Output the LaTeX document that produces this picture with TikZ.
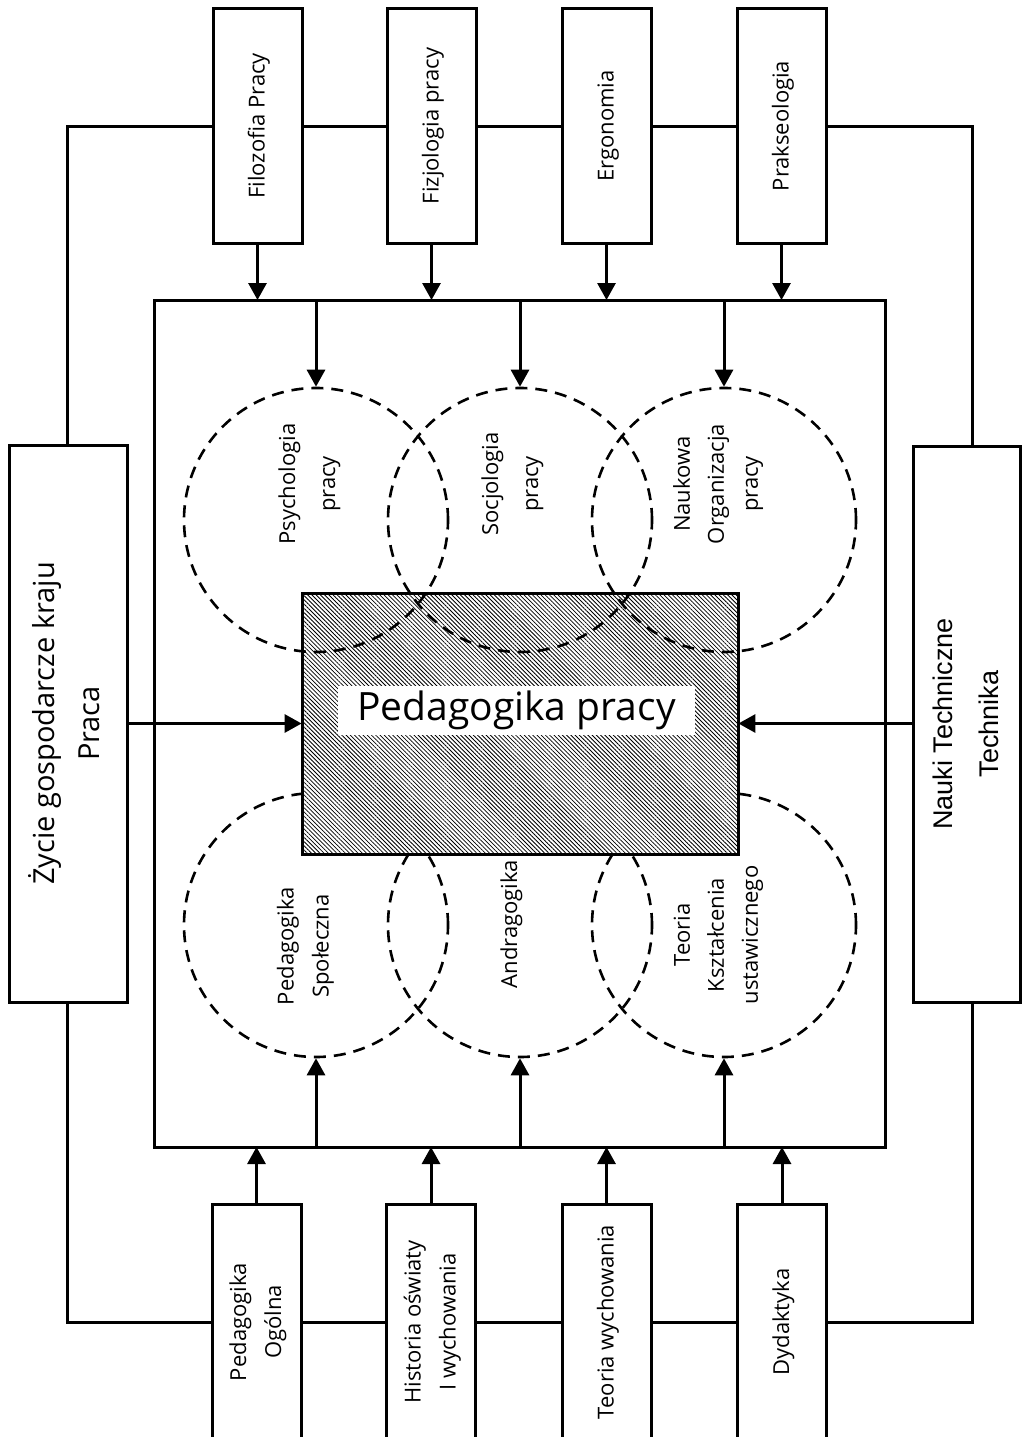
\documentclass[tikz,border=0pt]{standalone}
\usepackage{fontspec}
\usepackage{graphicx}
\setmainfont{Open Sans}
\newfontfamily\arialf{Liberation Sans}
\usetikzlibrary{arrows.meta,patterns.meta}
\newcommand\vtxt[3]{\rotatebox{90}{\fontsize{#1}{#2}\selectfont\begin{tabular}{@{}c@{}}#3\end{tabular}}}
\tikzset{
  line/.style={line width=3pt},
  arr/.style={line width=3pt,-{Triangle[length=17pt,width=18pt]}},
  box/.style={draw,line width=3pt,fill=white,inner sep=0pt},
  topbox/.style={box,minimum width=89pt,minimum height=234pt},
  botbox/.style={box,minimum width=89pt,minimum height=236pt},
  ring/.style={draw,circle,dash pattern=on 12pt off 8pt,line width=2.6pt,minimum size=264pt,inner sep=0pt},
  lbl/.style={inner sep=0pt}
}
\begin{document}
\begin{tikzpicture}[x=1pt,y=-1pt]
\useasboundingbox (0,0) rectangle (1022,1437);
\clip (0,0) rectangle (1022,1437);
% inner frame
\draw[line] (154,300) rectangle (885,1147);
\coordinate (fTL) at (154,300);
\coordinate (fBL) at (154,1147);
% bottom circles (behind)
\node[ring] (c4) at (316,925) {};
\node[ring] (c5) at (520,925) {};
\node[ring] (c6) at (724,925) {};
% hatched centre
\node[draw,line width=3pt,minimum width=436pt,minimum height=261pt,inner sep=0pt,
  preaction={fill=white},
  pattern={Lines[angle=-45,distance=3pt,line width=0.8pt]}] (pp) at (520,723.5) {};
\node[fill=white,minimum width=357pt,minimum height=49pt,inner sep=0pt,font=\fontsize{39}{46}\selectfont] (ppl) at (516.5,710.5) {Pedagogika pracy};
% top circles (in front)
\node[ring] (c1) at (316,520) {};
\node[ring] (c2) at (520,520) {};
\node[ring] (c3) at (724,520) {};
% circle texts
\node[lbl] at (307,484) {\vtxt{22}{40}{Psychologia\\pracy}};
\node[lbl] at (510,484) {\vtxt{22}{40}{Socjologia\\pracy}};
\node[lbl] at (717,484) {\vtxt{22}{34}{Naukowa\\Organizacja\\pracy}};
\node[lbl] at (304,946) {\vtxt{22}{35}{Pedagogika\\Społeczna}};
\node[lbl] at (510,924) {\vtxt{22}{35}{Andragogika}};
\node[lbl] at (717,935) {\vtxt{22}{34}{Teoria\\Kształcenia\\ustawicznego}};
% top boxes
\node[topbox] (t1) at (257.5,126) {\vtxt{22}{35}{Filozofia Pracy}};
\node[topbox] (t2) at (431.5,126) {\vtxt{22}{35}{Fizjologia pracy}};
\node[topbox] (t3) at (606.5,126) {\vtxt{22}{35}{Ergonomia}};
\node[topbox] (t4) at (781.5,126) {\vtxt{22}{35}{Prakseologia}};
% bottom boxes
\node[botbox] (b1) at (256.5,1322) {\vtxt{22}{35}{Pedagogika\\Ogólna}};
\node[botbox] (b2) at (431,1322) {\vtxt{22}{35}{Historia oświaty\\I wychowania}};
\node[botbox] (b3) at (606.5,1322) {\vtxt{22}{35}{Teoria wychowania}};
\node[botbox] (b4) at (782,1322) {\vtxt{22}{35}{Dydaktyka}};
% side boxes
\node[box,minimum width=118pt,minimum height=557pt] (L) at (68,723.5) {\vtxt{29}{45}{Życie gospodarcze kraju\\Praca}};
\node[box,minimum width=107pt,minimum height=556pt] (R) at (966.5,724) {\vtxt{27}{46}{\arialf Nauki Techniczne\\\arialf Technika}};
% outer connecting lines
\coordinate (tl) at (67,126);
\coordinate (tr) at (972,126);
\coordinate (bl) at (67,1322);
\coordinate (br) at (972,1322);
\draw[line] (L.north -| tl) -- (tl) -- (t1.west);
\draw[line] (t1.east) -- (t2.west);
\draw[line] (t2.east) -- (t3.west);
\draw[line] (t3.east) -- (t4.west);
\draw[line] (t4.east) -- (tr) -- (R.north -| tr);
\draw[line] (L.south -| bl) -- (bl) -- (b1.west);
\draw[line] (b1.east) -- (b2.west);
\draw[line] (b2.east) -- (b3.west);
\draw[line] (b3.east) -- (b4.west);
\draw[line] (b4.east) -- (br) -- (R.south -| br);
% arrows from outer boxes into frame
\foreach \n in {t1,t2,t3,t4} \draw[arr] (\n.south) -- (\n.south |- fTL);
\foreach \n in {b1,b2,b3,b4} \draw[arr] (\n.north) -- (\n.north |- fBL);
% arrows inside frame to circles
\foreach \n in {c1,c2,c3} \draw[arr] (\n.north |- fTL) -- (\n.north);
\foreach \n in {c4,c5,c6} \draw[arr] (\n.south |- fBL) -- (\n.south);
% side arrows
\draw[arr] (L.east |- pp.west) -- (pp.west);
\draw[arr] (R.west |- pp.east) -- (pp.east);
\end{tikzpicture}
\end{document}
